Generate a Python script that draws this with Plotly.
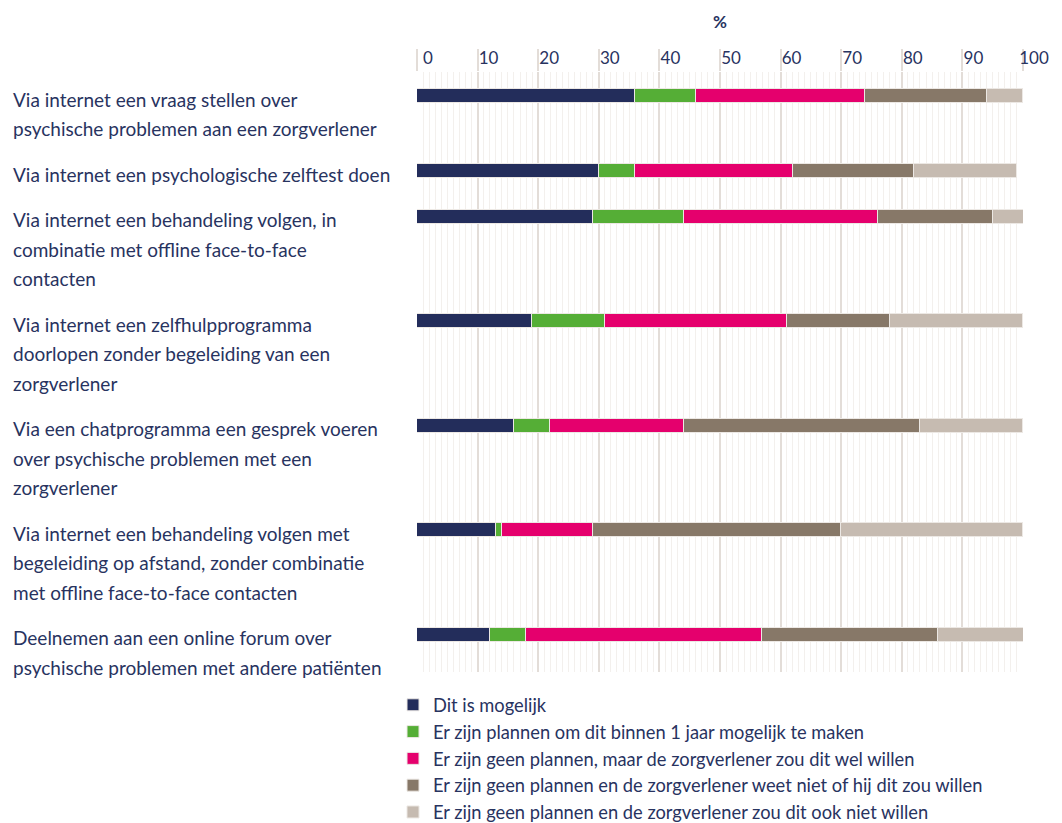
import plotly.graph_objects as go

# Survey items (each inner list = the text lines of one item label)
items = [
    ["Via internet een vraag stellen over",
     "psychische problemen aan een zorgverlener"],
    ["Via internet een psychologische zelftest doen"],
    ["Via internet een behandeling volgen, in",
     "combinatie met offline face-to-face",
     "contacten"],
    ["Via internet een zelfhulpprogramma",
     "doorlopen zonder begeleiding van een",
     "zorgverlener"],
    ["Via een chatprogramma een gesprek voeren",
     "over psychische problemen met een",
     "zorgverlener"],
    ["Via internet een behandeling volgen met",
     "begeleiding op afstand, zonder combinatie",
     "met offline face-to-face contacten"],
    ["Deelnemen aan een online forum over",
     "psychische problemen met andere patiënten"],
]

series_names = [
    "Dit is mogelijk",
    "Er zijn plannen om dit binnen 1 jaar mogelijk te maken",
    "Er zijn geen plannen, maar de zorgverlener zou dit wel willen",
    "Er zijn geen plannen en de zorgverlener weet niet of hij dit zou willen",
    "Er zijn geen plannen en de zorgverlener zou dit ook niet willen",
]

mogelijk       = [36, 30, 29, 19, 16, 13, 12]
plannen_1jaar  = [10,  6, 15, 12,  6,  1,  6]
wel_willen     = [28, 26, 32, 30, 22, 15, 39]
weet_niet      = [20, 20, 19, 17, 39, 41, 29]
niet_willen    = [ 6, 17,  6, 22, 17, 30, 15]

x_ticks = [0, 10, 20, 30, 40, 50, 60, 70, 80, 90, 100]

colors = ["#232D5B", "#55AE36", "#E5006D", "#877868", "#C6BBB1"]
text_color = "#28335F"
font_family = "Lato, 'Open Sans', sans-serif"

# Vertical layout in pixel units: each label line takes LINE_H, items separated by GAP
LINE_H = 29.5
GAP = 16
FIRST = 24
PLOT_H = 600

y_pos = []
cur = FIRST
for lines in items:
    y_pos.append(cur)
    cur += len(lines) * LINE_H + GAP

values = [mogelijk, plannen_1jaar, wel_willen, weet_niet, niet_willen]

fig = go.Figure()
for name, vals, col in zip(series_names, values, colors):
    fig.add_trace(go.Bar(
        x=vals, y=y_pos, orientation="h", name=name,
        width=14,
        marker=dict(color=col, line=dict(color="#ECE8E4", width=1)),
        legendgroup=name,
    ))

# Left-aligned item labels, one annotation per text line
PLOT_LEFT = 417
PLOT_W = 1023.3 - PLOT_LEFT
label_x = (11 - PLOT_LEFT) / PLOT_W
for lines, yp in zip(items, y_pos):
    for i, line in enumerate(lines):
        fig.add_annotation(
            text=line, xref="paper", yref="y",
            x=label_x, y=yp + i * LINE_H + 3,
            xanchor="left", yanchor="middle", showarrow=False,
            font=dict(family=font_family, size=19, color=text_color),
        )

fig.update_layout(
    width=1062, height=823,
    margin=dict(l=PLOT_LEFT, r=1062 - 1023, t=72, b=823 - 72 - PLOT_H,
                autoexpand=False),
    barmode="stack",
    plot_bgcolor="white", paper_bgcolor="white",
    bargap=0,
    showlegend=True,
    legend=dict(
        x=(393 - PLOT_LEFT) / PLOT_W, y=-0.024,
        xanchor="left", yanchor="top",
        traceorder="normal", tracegroupgap=0,
        font=dict(family=font_family, size=18.3, color=text_color),
        bgcolor="rgba(0,0,0,0)",
    ),
)

fig.update_xaxes(
    side="top", range=[0, 100],
    tickvals=x_ticks, ticktext=[str(t) for t in x_ticks],
    showgrid=True, gridcolor="#E3DDD8", gridwidth=2,
    ticks="outside", ticklen=22, tickwidth=2, tickcolor="#E3DDD8",
    ticklabelstandoff=-22, ticklabelshift=11,
    tickfont=dict(family=font_family, size=17, color=text_color),
    minor=dict(dtick=1, showgrid=True, gridcolor="#F3F0ED", gridwidth=1, ticks=""),
    zeroline=False, showline=False,
    title=dict(text="<b>%</b>", font=dict(family=font_family, size=17, color=text_color),
               standoff=14),
    fixedrange=True,
)

fig.update_yaxes(
    range=[PLOT_H, 0], showticklabels=False, showgrid=False,
    zeroline=False, showline=False, ticks="",
)

fig.write_html("out.html")
